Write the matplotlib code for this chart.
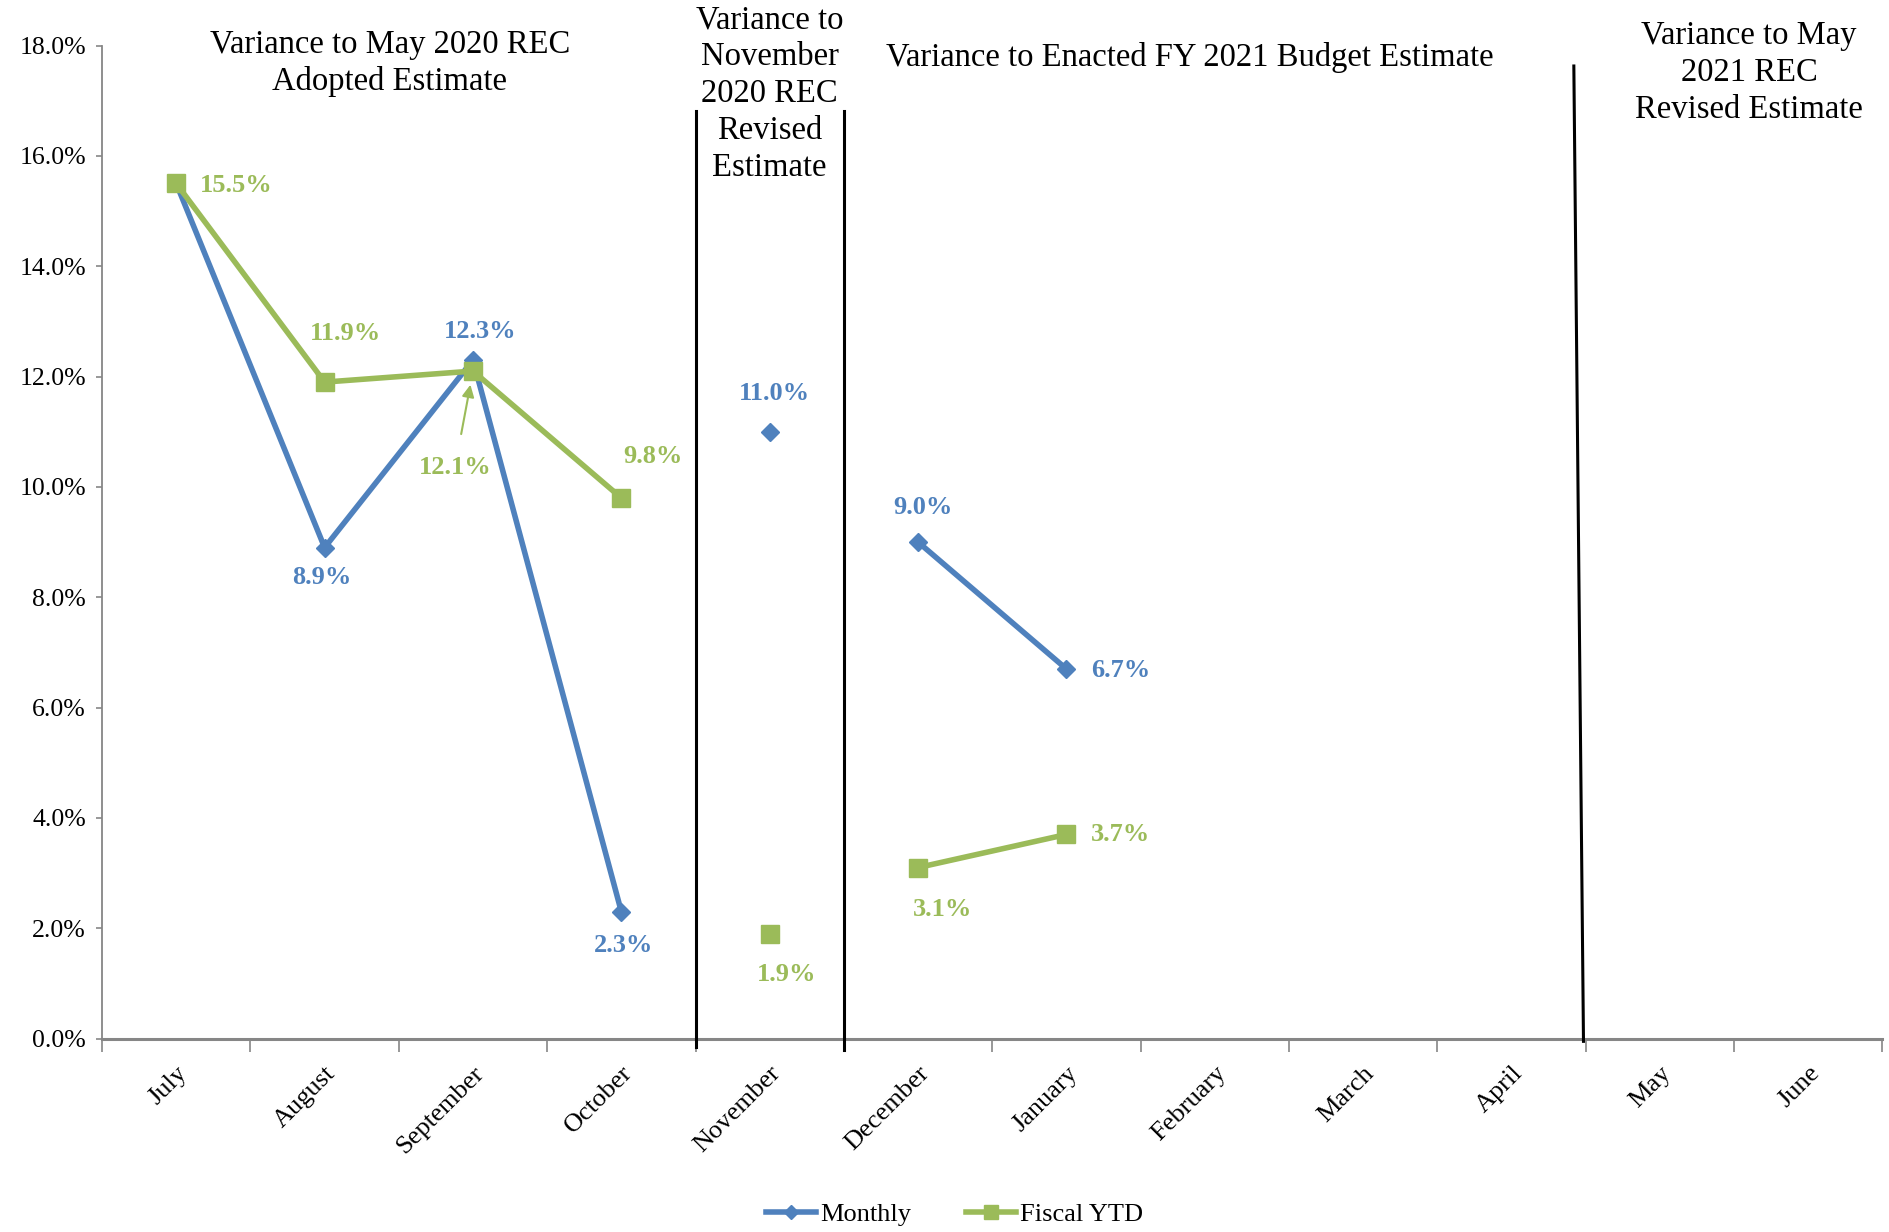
import numpy as np
import matplotlib
matplotlib.use("Agg")
import matplotlib.pyplot as plt
import matplotlib.transforms as mtransforms

plt.rcParams['font.family'] = ['Liberation Serif', 'DejaVu Serif']

# ---- data ----
months = ["July", "August", "September", "October", "November", "December",
          "January", "February", "March", "April", "May", "June"]
monthly = [15.5, 8.9, 12.3, 2.3, 11.0, 9.0, 6.7, np.nan, np.nan, np.nan, np.nan, np.nan]
fiscal_ytd = [15.5, 11.9, 12.1, 9.8, 1.9, 3.1, 3.7, np.nan, np.nan, np.nan, np.nan, np.nan]
segments = [(0, 4), (4, 5), (5, 7)]  # estimate periods (lines broken between them)
yticks = [0, 2, 4, 6, 8, 10, 12, 14, 16, 18]
period_titles = ["Variance to May 2020 REC\nAdopted Estimate",
                 "Variance to\nNovember\n2020 REC\nRevised\nEstimate",
                 "Variance to Enacted FY 2021 Budget Estimate",
                 "Variance to May\n2021 REC\nRevised Estimate"]

# ---- style ----
BLUE = "#4F81BD"
GREEN = "#9BBB59"
GRAY = "#868686"

fig = plt.figure(figsize=(18.9, 12.32), dpi=100)
ax = fig.add_axes([0.054, 0.157, 0.942, 0.806])

x = np.arange(len(months))
mon = np.array(monthly)
fy = np.array(fiscal_ytd)

for i, (a, b) in enumerate(segments):
    ax.plot(x[a:b], mon[a:b], color=BLUE, lw=4.0, marker='D', ms=9.5,
            markeredgecolor=BLUE, zorder=3, label="Monthly" if i == 0 else None)
for i, (a, b) in enumerate(segments):
    ax.plot(x[a:b], fy[a:b], color=GREEN, lw=4.0, marker='s', ms=13,
            markeredgecolor=GREEN, zorder=4, label="Fiscal YTD" if i == 0 else None)

ax.set_xlim(-0.5, len(months) - 0.5)
ax.set_ylim(0, 18)
ax.set_yticks(yticks)
ax.set_yticklabels([f"{t:.1f}%" for t in yticks], fontsize=18.5)
ax.set_xticks(x)
ax.set_xticklabels(months, fontsize=19, rotation=45, ha='right', va='top',
                   rotation_mode='anchor')
ax.set_xticks(np.arange(-0.5, len(months), 1.0), minor=True)
ax.tick_params(axis='x', which='major', length=0, pad=17)
ax.tick_params(axis='x', which='minor', length=9, width=1.2, color=GRAY, direction='out')
ax.tick_params(axis='y', length=4.5, width=1.2, color=GRAY, direction='out', pad=7)
for s in ['top', 'right']:
    ax.spines[s].set_visible(False)
ax.spines['left'].set_color(GRAY)
ax.spines['left'].set_linewidth(1.3)
ax.spines['bottom'].set_color(GRAY)
ax.spines['bottom'].set_linewidth(2.2)
ax.set_facecolor('none')

# period dividers
kw = dict(color='black', lw=2.2, clip_on=False, zorder=5)
ax.plot([3.5, 3.5], [-0.15, 16.82], **kw)
ax.plot([4.5, 4.5], [-0.2, 16.82], **kw)
ax.plot([9.485, 9.42], [-0.05, 17.63], **kw)

# period titles
tr = mtransforms.blended_transform_factory(ax.transData, fig.transFigure)
title_pos = [(1.44, 0.9486), (4.0, 0.9237), (6.83, 0.953), (10.6, 0.9408)]
for t, (tx, ty) in zip(period_titles, title_pos):
    ax.text(tx, ty, t, transform=tr, ha='center', va='center', fontsize=23.5,
            linespacing=1.27, color='black')

# data labels (offsets in points)
mon_off = [(None), (-1.7, -21.7), (5.2, 20.8), (1.7, -24.3), (3.5, 27.8), (3.5, 25.2), (39, -0.9)]
fy_off = [(43, -1.7), (14.8, 34.7), None, (22.6, 29.5), (12.2, -29.5), (17.4, -30.4), (39, 0)]
for i, off in enumerate(mon_off):
    if off is None or np.isnan(mon[i]):
        continue
    ax.annotate(f"{mon[i]:.1f}%", (x[i], mon[i]), xytext=off, textcoords='offset points',
                ha='center', va='center', fontsize=19, fontweight='bold', color=BLUE)
for i, off in enumerate(fy_off):
    if off is None or np.isnan(fy[i]):
        continue
    ax.annotate(f"{fy[i]:.1f}%", (x[i], fy[i]), xytext=off, textcoords='offset points',
                ha='center', va='center', fontsize=19, fontweight='bold', color=GREEN)
# callout for September Fiscal YTD
ax.annotate(f"{fy[2]:.1f}%", (x[2], fy[2]), xytext=(-13, -69.4), textcoords='offset points',
            ha='center', va='center', fontsize=19, fontweight='bold', color=GREEN,
            arrowprops=dict(arrowstyle='-|>', color=GREEN, lw=1.5, mutation_scale=18,
                            shrinkA=14, shrinkB=10))

fig.legend(loc='center', bbox_to_anchor=(0.505, 0.0146), ncol=2, frameon=False,
           fontsize=19, handlelength=1.9, handletextpad=0.15, columnspacing=2.1,
           markerscale=0.8)

fig.savefig("out.png", dpi=100)
